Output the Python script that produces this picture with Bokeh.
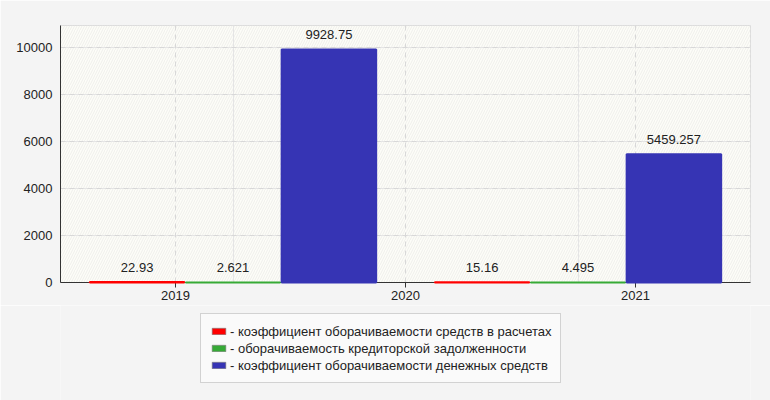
from bokeh.plotting import figure
from bokeh.layouts import column
from bokeh.models import (ColumnDataSource, Range1d, FactorRange, FixedTicker,
                          LinearAxis, CategoricalAxis, CategoricalTicker, Legend,
                          LegendItem, BoxAnnotation, Grid)
from bokeh.transform import dodge
from bokeh.core.properties import value
from bokeh.embed import file_html
from bokeh.resources import INLINE

# ---- data ----
periods = ["2020", "2021"]
year_ticks = ["2019", "2020", "2021"]
y_ticks = [0, 2000, 4000, 6000, 8000, 10000]
series_names = [
    "- коэффициент оборачиваемости средств в расчетах",
    "- оборачиваемость кредиторской задолженности",
    "- коэффициент оборачиваемости денежных средств",
]
receivables_turnover = [22.93, 15.16]
payables_turnover = [2.621, 4.495]
cash_turnover = [9928.75, 5459.257]
series_colors = ["#ff0000", "#36aa36", "#3634b4"]

FONT = "Liberation Sans"
TXT = "#222222"
BG = "#f4f4f4"

source = ColumnDataSource(dict(
    period=periods,
    s0=receivables_turnover, s1=payables_turnover, s2=cash_turnover,
    l0=[str(v) for v in receivables_turnover],
    l1=[str(v) for v in payables_turnover],
    l2=[str(v) for v in cash_turnover],
))

groups = FactorRange(factors=periods, range_padding=0, factor_padding=0)
years = FactorRange(factors=year_ticks, range_padding=0, factor_padding=0)

p = figure(width=770, height=305, output_backend="svg", toolbar_location=None,
           x_range=groups, y_range=Range1d(0, 10950),
           min_border_left=60, min_border_right=20, min_border_top=25,
           min_border_bottom=23, x_axis_location=None, y_axis_location=None)
p.extra_x_ranges = {"years": years}

p.border_fill_color = BG
p.background_fill_color = "#fdfdf8"
p.outline_line_color = "#dcdcdc"

# faint diagonal hatch over the plot area
p.add_layout(BoxAnnotation(fill_alpha=0, line_alpha=0, hatch_pattern="/",
                           hatch_color="#efefeb", hatch_scale=5, hatch_weight=1,
                           level="image"))

xaxis = CategoricalAxis(x_range_name="years")
yaxis = LinearAxis(ticker=FixedTicker(ticks=y_ticks))
for ax in (xaxis, yaxis):
    ax.axis_line_color = "#333333"
    ax.major_label_text_font = FONT
    ax.major_label_text_font_size = "13px"
    ax.major_label_text_color = TXT
    ax.minor_tick_line_color = None
xaxis.major_tick_line_color = "#333333"
xaxis.major_tick_out = 5
xaxis.major_tick_in = 0
xaxis.major_label_standoff = 3
xaxis.major_label_orientation = "horizontal"
yaxis.major_tick_line_color = None
yaxis.major_tick_out = 0
yaxis.major_tick_in = 0
yaxis.major_label_standoff = 8
p.add_layout(xaxis, "below")
p.add_layout(yaxis, "left")

p.add_layout(Grid(dimension=0, ticker=CategoricalTicker(), x_range_name="years",
                  grid_line_color="#d8d8d8", grid_line_dash="5 4"))
p.add_layout(Grid(dimension=1, ticker=yaxis.ticker, grid_line_color="#d8d8d8",
                  grid_line_dash="5 4"))

offset = 0.278
bar_w = 0.274
cols = ["s0", "s1", "s2"]
labs = ["l0", "l1", "l2"]
for i, (col, lab, color) in enumerate(zip(cols, labs, series_colors)):
    off = (i - 1) * offset
    p.vbar(x=dodge("period", off, range=groups), top=col,
           width=bar_w, source=source, level="overlay",
           fill_color=color, line_color=color, line_width=2)
    p.text(x=dodge("period", off, range=groups), y=col, text=lab,
           source=source, text_align="center",
           text_baseline="bottom", y_offset=-10, text_font=value(FONT),
           text_font_size="13px", text_color=TXT)

# ---- legend strip below the chart ----
groups2 = FactorRange(factors=periods, range_padding=0, factor_padding=0)
lf = figure(width=770, height=95, output_backend="svg", toolbar_location=None,
            x_range=groups2, y_range=Range1d(0, 1),
            min_border_left=60, min_border_right=20, min_border_top=0,
            min_border_bottom=0, x_axis_location=None, y_axis_location=None)
lf.border_fill_color = BG
lf.background_fill_color = BG
lf.outline_line_color = None
lf.xgrid.visible = False
lf.ygrid.visible = False
items = []
for col, color, name in zip(cols, series_colors, series_names):
    r = lf.vbar(x="period", top=col, width=0.3, source=source,
                fill_color=color, line_color="#777777", line_alpha=0.6, visible=False)
    items.append(LegendItem(label=name, renderers=[r]))

legend = Legend(items=items, location=(140, 17), orientation="vertical",
                label_text_font=FONT, label_text_font_size="13px",
                label_text_color=TXT, glyph_width=17, glyph_height=8,
                label_height=16, label_standoff=3, spacing=1, padding=9,
                margin=0, border_line_color="#aaaaaa", background_fill_color="#fafafa",
                background_fill_alpha=1)
lf.add_layout(legend, "center")

layout = column(p, lf, spacing=0)
open("out.html", "w").write(file_html(layout, INLINE))
